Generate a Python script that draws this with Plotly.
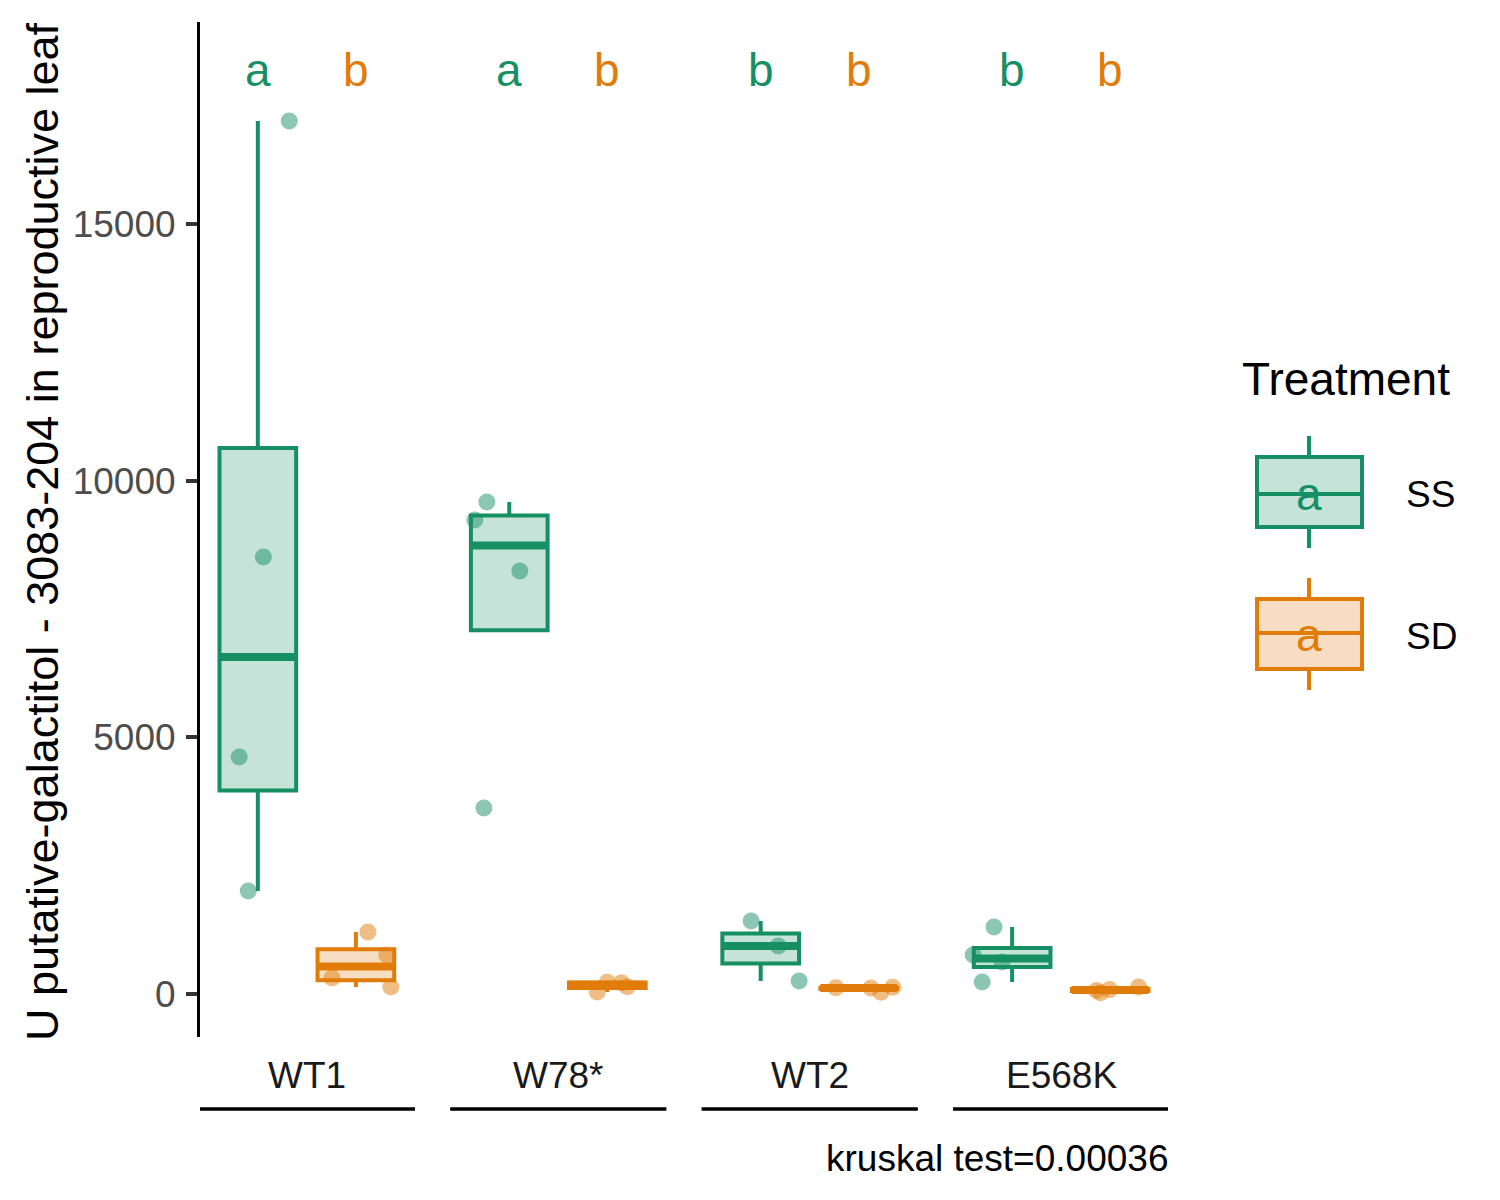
import numpy as np
import plotly.graph_objects as go

# ---------------- data ----------------
groups = ["WT1", "W78*", "WT2", "E568K"]
treatments = ["SS", "SD"]

wt1_ss = [17007, 8513, 4617, 2007]
wt1_sd = [1208, 760, 312, 136]
w78_ss = [9585, 9234, 8241, 3624]
w78_sd = [230, 40, 220, 140]
wt2_ss = [1422, 935, 253]
wt2_sd = [120, 115, 35, 130]
e568k_ss = [1305, 760, 623, 234]
e568k_sd = [70, 25, 85, 135]

# horizontal jitter of each point (x units)
wt1_ss_jit = [0.125, 0.022, -0.074, -0.038]
wt1_sd_jit = [0.048, 0.123, -0.095, 0.139]
w78_ss_jit = [-0.089, -0.137, 0.042, -0.101]
w78_sd_jit = [0.0, -0.040, 0.056, 0.080]
wt2_ss_jit = [-0.038, 0.070, 0.153]
wt2_sd_jit = [-0.091, 0.048, 0.088, 0.135]
e568k_ss_jit = [-0.072, -0.155, -0.040, -0.119]
e568k_sd_jit = [-0.054, -0.038, -0.002, 0.113]

letters_ss = ["a", "a", "b", "b"]
letters_sd = ["b", "b", "b", "b"]
kruskal_p = "0.00036"

y_ticks = [0, 5000, 10000, 15000]
y_title = "U putative-galactitol - 3083-204 in reproductive leaf"
legend_title = "Treatment"

# ---------------- styling ----------------
FONT = "Liberation Sans, Arial, sans-serif"
COL = {"SS": (23, 143, 101), "SD": (225, 123, 10)}
def rgba(c, a):
    return f"rgba({c[0]},{c[1]},{c[2]},{a})"

W, H = 1500, 1200
OFF = 8  # page body margin offset
PW, PH = 968, 1015
ML, MT = 200 - OFF, 22 - OFF
MR, MB = W - ML - PW, H - MT - PH
def px(x):
    return (x - OFF - ML) / PW
def py(y):
    return (MT + PH - (y - OFF)) / PH

DODGE = 0.195
BOXW = 0.305
LW = 4

series = {
    "SS": [wt1_ss, w78_ss, wt2_ss, e568k_ss],
    "SD": [wt1_sd, w78_sd, wt2_sd, e568k_sd],
}
jitters = {
    "SS": [wt1_ss_jit, w78_ss_jit, wt2_ss_jit, e568k_ss_jit],
    "SD": [wt1_sd_jit, w78_sd_jit, wt2_sd_jit, e568k_sd_jit],
}
letters = {"SS": letters_ss, "SD": letters_sd}

def box_stats(v):
    v = np.asarray(v, dtype=float)
    q1, med, q3 = np.percentile(v, [25, 50, 75])
    iqr = q3 - q1
    lo = v[v >= q1 - 1.5 * iqr].min()
    hi = v[v <= q3 + 1.5 * iqr].max()
    return q1, med, q3, min(lo, q1), max(hi, q3)

fig = go.Figure()

# boxes
for t in treatments:
    off = -DODGE if t == "SS" else DODGE
    pos = [i + 1 + off for i in range(len(groups))]
    st = [box_stats(v) for v in series[t]]
    fig.add_trace(go.Box(
        x=pos, q1=[s[0] for s in st], median=[s[1] for s in st],
        q3=[s[2] for s in st], lowerfence=[s[3] for s in st],
        upperfence=[s[4] for s in st], orientation="v",
        width=BOXW, whiskerwidth=0, boxpoints=False,
        fillcolor=rgba(COL[t], 0.25), line=dict(color=rgba(COL[t], 1), width=LW),
        showlegend=False, hoverinfo="skip"))
    # thick median
    mx, my = [], []
    for p, s in zip(pos, st):
        mx += [p - BOXW / 2, p + BOXW / 2, None]
        my += [s[1], s[1], None]
    fig.add_trace(go.Scatter(x=mx, y=my, mode="lines",
                             line=dict(color=rgba(COL[t], 1), width=8),
                             showlegend=False, hoverinfo="skip"))

# jittered points
for t in treatments:
    off = -DODGE if t == "SS" else DODGE
    xs, ys = [], []
    for i, (v, j) in enumerate(zip(series[t], jitters[t])):
        xs += [i + 1 + off + jj for jj in j]
        ys += list(v)
    fig.add_trace(go.Scatter(x=xs, y=ys, mode="markers",
                             marker=dict(size=17, color=rgba(COL[t], 0.5), line=dict(width=0)),
                             showlegend=False, hoverinfo="skip"))

annotations = []
shapes = []

# significance letters
LETTER_Y = 18000
for t in treatments:
    off = -DODGE if t == "SS" else DODGE
    for i, L in enumerate(letters[t]):
        annotations.append(dict(x=i + 1 + off, y=LETTER_Y, xref="x", yref="y",
                                text=L, showarrow=False, xanchor="center", yanchor="middle",
                                font=dict(family=FONT, size=46, color=rgba(COL[t], 1))))

# group labels with underline
for i, g in enumerate(groups):
    annotations.append(dict(x=i + 1, y=py(1075), xref="x", yref="paper", text=g,
                            showarrow=False, xanchor="center", yanchor="middle",
                            font=dict(family=FONT, size=37, color="#1a1a1a")))
    shapes.append(dict(type="line", xref="x", yref="paper", x0=i + 1 - 0.43, x1=i + 1 + 0.43,
                       y0=py(1109), y1=py(1109), line=dict(color="black", width=3.5)))

# caption
annotations.append(dict(x=px(1170), y=py(1158), xref="paper", yref="paper",
                        text=f"kruskal test={kruskal_p}", showarrow=False,
                        xanchor="right", yanchor="middle",
                        font=dict(family=FONT, size=37, color="black")))

# y title
annotations.append(dict(x=px(42), y=py(532), xref="paper", yref="paper", text=y_title,
                        showarrow=False, textangle=-90, xanchor="center", yanchor="middle",
                        font=dict(family=FONT, size=45, color="black")))

# legend (drawn manually, ggplot style)
annotations.append(dict(x=px(1240), y=py(379), xref="paper", yref="paper", text=legend_title,
                        showarrow=False, xanchor="left", yanchor="middle",
                        font=dict(family=FONT, size=46, color="black")))
leg = {"SS": (457, 527, 494, 436, 548, 495), "SD": (599, 669, 633, 578, 690, 636)}
for t in treatments:
    top, bot, med, wt, wb, lab = leg[t]
    c = rgba(COL[t], 1)
    shapes.append(dict(type="rect", xref="paper", yref="paper", x0=px(1257), x1=px(1362),
                       y0=py(bot), y1=py(top), fillcolor=rgba(COL[t], 0.25),
                       line=dict(color=c, width=LW)))
    shapes.append(dict(type="line", xref="paper", yref="paper", x0=px(1257), x1=px(1362),
                       y0=py(med), y1=py(med), line=dict(color=c, width=LW)))
    shapes.append(dict(type="line", xref="paper", yref="paper", x0=px(1309), x1=px(1309),
                       y0=py(wt), y1=py(top), line=dict(color=c, width=LW)))
    shapes.append(dict(type="line", xref="paper", yref="paper", x0=px(1309), x1=px(1309),
                       y0=py(bot), y1=py(wb), line=dict(color=c, width=LW)))
    annotations.append(dict(x=px(1309), y=py(lab - 1), xref="paper", yref="paper", text="a",
                            showarrow=False, xanchor="center", yanchor="middle",
                            font=dict(family=FONT, size=46, color=c)))
    annotations.append(dict(x=px(1404), y=py(lab), xref="paper", yref="paper", text=t,
                            showarrow=False, xanchor="left", yanchor="middle",
                            font=dict(family=FONT, size=37, color="black")))

fig.update_layout(
    width=W, height=H, margin=dict(l=ML, r=MR, t=MT, b=MB, pad=0),
    paper_bgcolor="white", plot_bgcolor="white", boxmode="overlay",
    showlegend=False, annotations=annotations, shapes=shapes,
    xaxis=dict(range=[0.575, 4.425], showgrid=False, zeroline=False, showline=False,
               showticklabels=False, ticks=""),
    yaxis=dict(range=[-838, 18936], tickvals=y_ticks, ticktext=[str(v) for v in y_ticks],
               ticks="outside", ticklen=11, tickwidth=3.5, tickcolor="#333333",
               ticklabelstandoff=3,
               showline=True, linecolor="black", linewidth=3,
               showgrid=False, zeroline=False,
               tickfont=dict(family=FONT, size=37, color="#4d4d4d")),
)

fig.write_html("out.html")
